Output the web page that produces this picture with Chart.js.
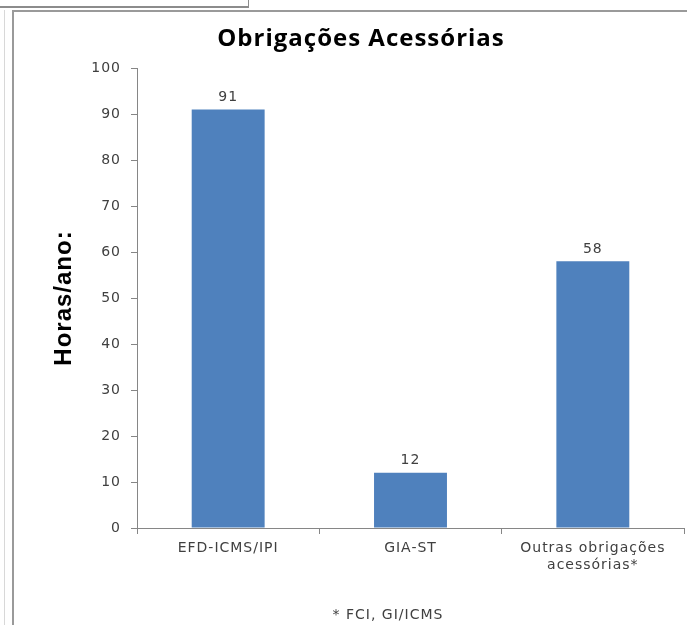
<!DOCTYPE html>
<html>
<head>
<meta charset="utf-8">
<script src="https://cdn.jsdelivr.net/npm/chart.js@4"></script>
<style>
    html, body { margin: 0; padding: 0; background: #fff; }
    .wrap { position: relative; width: 687px; height: 625px; overflow: hidden; }
    /* moldura da captura original */
    .box-top { position: absolute; left: -2px; top: -2px; width: 250px; height: 8px; border: 1px solid #8c8c8c; border-top: none; border-left: none; border-bottom-width: 2px; }
    .frame { position: absolute; left: 12px; top: 10px; width: 700px; height: 700px; border-left: 2px solid #9a9a9a; border-top: 2px solid #9a9a9a; }
    .faint { position: absolute; left: 4px; top: 10px; width: 1px; height: 620px; background: #d8d8d8; }
    canvas { position: absolute; left: 0; top: 0; }
    .titulo { position: absolute; left: 0; width: 722px; top: 20px; line-height: 30px; text-align: center;
              font: bold 24px "Open Sans", sans-serif; letter-spacing: 1px; color: #000; }
    .nota { position: absolute; left: 288px; width: 200px; top: 606px; line-height: 16px; text-align: center;
            font: 14px "DejaVu Sans", sans-serif; letter-spacing: 1px; color: #404040; }
</style>
</head>
<body>
<div class="wrap">
    <div class="box-top"></div>
    <div class="faint"></div>
    <div class="frame"></div>
    <canvas id="chart" width="687" height="625"></canvas>
    <div class="titulo">Obrigações Acessórias</div>
    <div class="nota">* FCI, GI/ICMS</div>
</div>
<script>
// dados do gráfico
const categorias = ['EFD-ICMS/IPI', 'GIA-ST', ['Outras obrigações', 'acessórias*']];
const horasAno = [91, 12, 58];
const ticksY = [0, 10, 20, 30, 40, 50, 60, 70, 80, 90, 100];

const corBarra = '#4f81bd';
const corEixo = '#868686';
const corTexto = '#404040';

// espaçamento entre letras (o original está esticado na horizontal)
const espacamento = {
    id: 'espacamento',
    beforeDraw(chart) {
        chart.ctx.letterSpacing = '1px';
    }
};

// rótulos de valor acima das barras
const rotulosValor = {
    id: 'rotulosValor',
    afterDatasetsDraw(chart) {
        const ctx = chart.ctx;
        const meta = chart.getDatasetMeta(0);
        ctx.save();
        ctx.font = '14px "DejaVu Sans"';
        ctx.fillStyle = corTexto;
        ctx.textAlign = 'center';
        ctx.textBaseline = 'middle';
        meta.data.forEach((bar, i) => {
            ctx.fillText(String(horasAno[i]), bar.x, bar.y - 12);
        });
        ctx.restore();
    }
};

new Chart(document.getElementById('chart'), {
    type: 'bar',
    data: {
        labels: categorias,
        datasets: [{
            data: horasAno,
            backgroundColor: corBarra,
            borderWidth: 0,
            categoryPercentage: 1,
            barPercentage: 0.4
        }]
    },
    options: {
        responsive: false,
        animation: false,
        layout: { padding: { left: 0, right: 3, top: 68, bottom: 0 } },
        plugins: {
            legend: { display: false },
            tooltip: { enabled: false }
        },
        scales: {
            x: {
                grid: { display: true, drawOnChartArea: false, offset: true, color: corEixo, tickLength: 6 },
                border: { color: corEixo, width: 1 },
                ticks: {
                    color: corTexto,
                    font: { family: '"DejaVu Sans"', size: 14, lineHeight: 1.2 },
                    padding: 6,
                    maxRotation: 0
                },
                afterFit(scale) { scale.height = 97; }
            },
            y: {
                min: 0,
                max: 100,
                afterBuildTicks(scale) { scale.ticks = ticksY.map(v => ({ value: v })); },
                grid: { display: true, drawOnChartArea: false, color: corEixo, tickLength: 6 },
                border: { color: corEixo, width: 1 },
                ticks: {
                    color: corTexto,
                    font: { family: '"DejaVu Sans"', size: 14 },
                    padding: 10
                },
                title: {
                    display: true,
                    text: 'Horas/ano:',
                    color: '#000',
                    font: { family: '"Liberation Sans", Arial, sans-serif', size: 24, weight: 'bold', lineHeight: 1.2 },
                    padding: { top: 50, bottom: 0 }
                },
                afterFit(scale) { scale.width = 137; }
            }
        }
    },
    plugins: [espacamento, rotulosValor]
});
</script>
</body>
</html>
